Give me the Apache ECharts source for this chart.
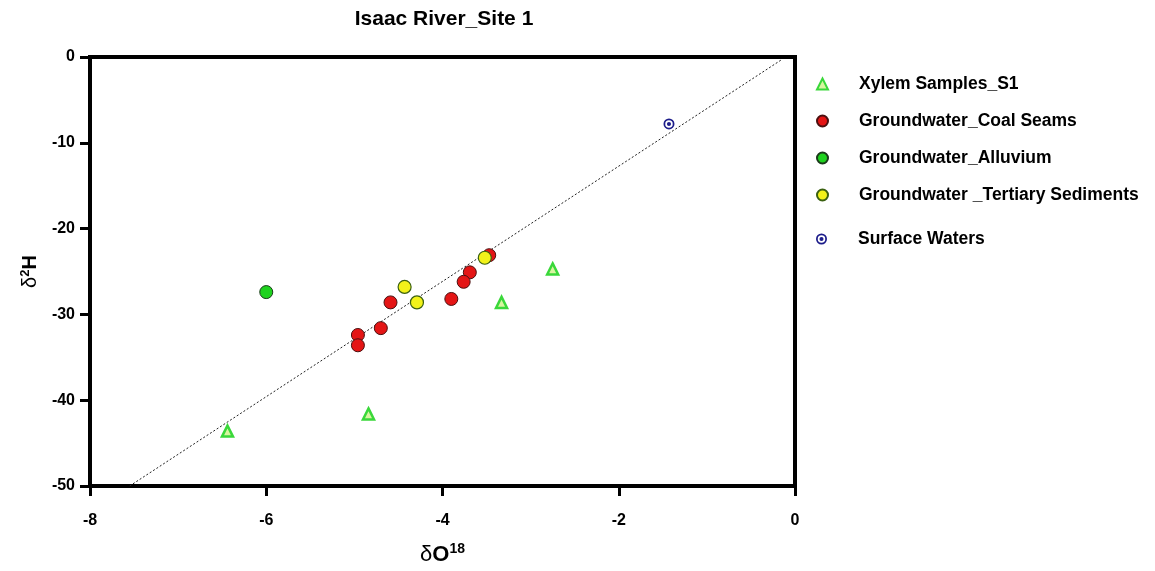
<!DOCTYPE html>
<html><head><meta charset="utf-8">
<script src="https://cdn.jsdelivr.net/npm/echarts@6/dist/echarts.min.js"></script>
<style>html,body{margin:0;padding:0;background:#fff}#c{width:1155px;height:571px}</style>
</head><body><div id="c"></div>
<script>
const xylem = [[-6.44,-43.6],[-4.84,-41.6],[-3.33,-28.6],[-2.75,-24.7]];
const coalSeams = [[-3.47,-23.1],[-3.69,-25.1],[-3.76,-26.2],[-3.90,-28.2],[-4.59,-28.6],[-4.70,-31.6],[-4.96,-32.4],[-4.96,-33.6]];
const alluvium = [[-6.00,-27.4]];
const tertiary = [[-4.43,-26.8],[-4.29,-28.6],[-3.52,-23.4]];
const surface = [[-1.43,-7.8]];
const waterLine = [[-7.55,-50],[-0.15,-0.3]];
const xTicks = [-8,-6,-4,-2,0];
const yTicks = [0,-10,-20,-30,-40,-50];

const narrow = '"Liberation Sans Narrow","Arial Narrow","Liberation Sans",Arial,sans-serif';
const sans = '"Liberation Sans",Arial,sans-serif';
const ringPath = 'path://M0,10 A10,10 0 1,1 20,10 A10,10 0 1,1 0,10 Z M3.2,10 A6.8,6.8 0 1,0 16.8,10 A6.8,6.8 0 1,0 3.2,10 Z M6.3,10 A3.7,3.7 0 1,1 13.7,10 A3.7,3.7 0 1,1 6.3,10 Z';

const chart = echarts.init(document.getElementById('c'), null, {renderer:'canvas'});
chart.setOption({
  animation:false,
  backgroundColor:'#fff',
  title:{text:'Isaac River_Site 1', left:439, top:4, textAlign:'center',
    textStyle:{fontFamily:narrow, fontWeight:'bold', fontSize:21, color:'#000'}},
  grid:{left:90, top:57, right:360, bottom:83, show:true, borderColor:'#000', borderWidth:4, backgroundColor:'transparent'},
  legend:[{
    data:['Xylem Samples_S1','Groundwater_Coal Seams','Groundwater_Alluvium','Groundwater _Tertiary Sediments'],
    orient:'vertical', left:811, top:70, itemWidth:11, itemHeight:11, itemGap:19,
    textStyle:{fontFamily:sans, fontWeight:'bold', fontSize:17.5, color:'#000', padding:[0,0,0,26]}
  },{
    data:['Surface Waters'],
    orient:'vertical', left:811, top:225, itemWidth:11, itemHeight:11,
    textStyle:{fontFamily:sans, fontWeight:'bold', fontSize:17.5, color:'#000', padding:[0,0,0,26]}
  }],
  xAxis:{type:'value', min:-8, max:0, interval:2,
    name:'{d|δ}{o|O}{s|18}', nameLocation:'middle', nameGap:56,
    nameTextStyle:{rich:{
      d:{fontFamily:sans, fontSize:22, color:'#000', verticalAlign:'bottom'},
      o:{fontFamily:sans, fontSize:22, fontWeight:'bold', color:'#000', verticalAlign:'bottom'},
      s:{fontFamily:sans, fontSize:14, fontWeight:'bold', color:'#000', verticalAlign:'top', padding:[0,0,10,0]}
    }},
    axisLine:{onZero:false, lineStyle:{color:'#000', width:4}},
    axisTick:{length:10, lineStyle:{color:'#000', width:3}},
    axisLabel:{fontFamily:narrow, fontWeight:'bold', fontSize:16, color:'#000', margin:27},
    splitLine:{show:false}},
  yAxis:{type:'value', min:-50, max:0, interval:10,
    name:'{d|δ}{s|2}{h|H}', nameLocation:'middle', nameGap:44, nameRotate:90,
    nameTextStyle:{rich:{
      d:{fontFamily:sans, fontSize:20, color:'#000', verticalAlign:'bottom'},
      s:{fontFamily:sans, fontSize:13, fontWeight:'bold', color:'#000', verticalAlign:'top', padding:[0,0,9,0]},
      h:{fontFamily:sans, fontSize:20, fontWeight:'bold', color:'#000', verticalAlign:'bottom'}
    }},
    axisLine:{onZero:false, lineStyle:{color:'#000', width:4}},
    axisTick:{length:10, lineStyle:{color:'#000', width:3}},
    axisLabel:{fontFamily:narrow, fontWeight:'bold', fontSize:16, color:'#000', margin:15},
    splitLine:{show:false}},
  series:[
    {type:'line', name:'line', data:waterLine, symbol:'none', silent:true, z:1,
      lineStyle:{color:'#222', width:1, type:[2,2]}},
    {type:'scatter', name:'Xylem Samples_S1', data:xylem, symbol:'triangle', symbolSize:11, z:3,
      itemStyle:{color:'#d8f5a0', borderColor:'#3ad83a', borderWidth:2.5, opacity:1}},
    {type:'scatter', name:'Groundwater_Coal Seams', data:coalSeams, symbol:'circle', symbolSize:13, z:3,
      itemStyle:{color:'#e41515', borderColor:'#4a1010', borderWidth:1, opacity:1}},
    {type:'scatter', name:'Groundwater_Alluvium', data:alluvium, symbol:'circle', symbolSize:13, z:3,
      itemStyle:{color:'#1ed21e', borderColor:'#1a3a1a', borderWidth:1, opacity:1}},
    {type:'scatter', name:'Groundwater _Tertiary Sediments', data:tertiary, symbol:'circle', symbolSize:13, z:3,
      itemStyle:{color:'#f2f21a', borderColor:'#3a6010', borderWidth:1.2, opacity:1}},
    {type:'scatter', name:'Surface Waters', data:surface, symbol:ringPath, symbolSize:11, z:3,
      itemStyle:{color:'#1c1c8a', opacity:1}}
  ]
});
</script></body></html>
